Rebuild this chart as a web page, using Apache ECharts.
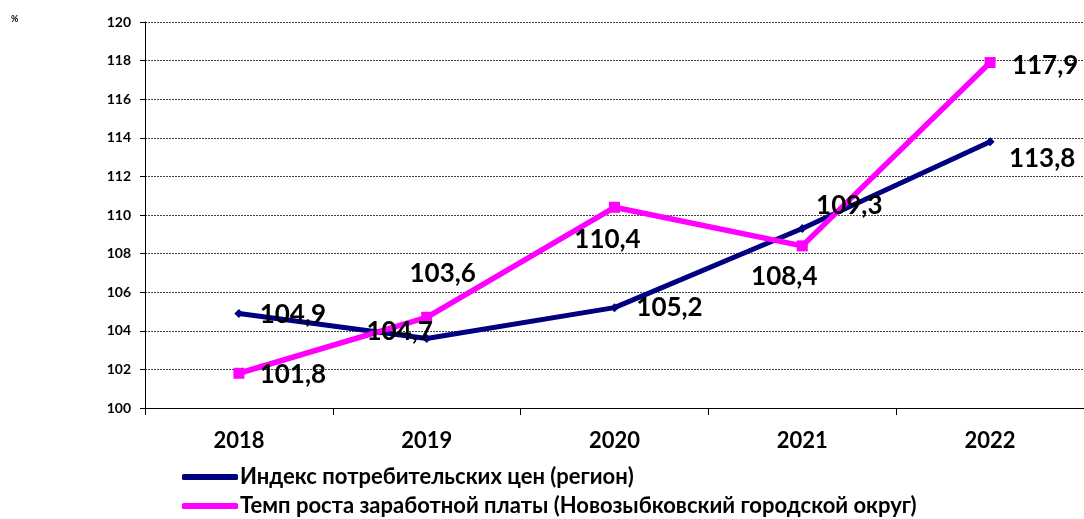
<!DOCTYPE html>
<html>
<head>
<meta charset="utf-8">
<script src="https://cdn.jsdelivr.net/npm/echarts@6/dist/echarts.min.js"></script>
<style>
  html, body { margin: 0; padding: 0; background: #fff; }
  #chart { width: 1084px; height: 519px; }
</style>
</head>
<body>
<div id="chart"></div>
<script>
const years = ['2018', '2019', '2020', '2021', '2022']
const cpiValues = [104.9, 103.6, 105.2, 109.3, 113.8]
const wageValues = [101.8, 104.7, 110.4, 108.4, 117.9]
// подписи в исходнике не всегда совпадают с точками
const cpiLabels = ['104,9', '104,7', '105,2', '109,3', '113,8']
const wageLabels = ['101,8', '103,6', '110,4', '108,4', '117,9']
const yTicks = [100, 102, 104, 106, 108, 110, 112, 114, 116, 118, 120]
const seriesNames = [
  'Индекс потребительских цен (регион)',
  'Темп роста заработной платы (Новозыбковский городской округ)'
]

// смещения подписей относительно точек
const cpiOffsets = [[54, 1], [-27, -7], [55, 0], [47, -23], [52, 17]]
const wageOffsets = [[54, 1], [16, -44], [-7, 32], [-18, 31], [55, 3]]

const font = 'Lato, "Open Sans", sans-serif'

const makeData = (values, labels, offsets) =>
  values.map((v, i) => ({
    value: v,
    label: { formatter: labels[i], offset: offsets[i] }
  }))

const labelStyle = {
  show: true,
  position: 'inside',
  color: '#000',
  fontFamily: font,
  fontWeight: 'bold',
  fontSize: 26
}

// по одной легенде на строку, чтобы не было переноса в колонку
const makeLegend = (name, top) => ({
  orient: 'vertical',
  left: 182,
  top: top,
  padding: 0,
  itemWidth: 56,
  itemHeight: 6,
  icon: 'roundRect',
  textStyle: { fontFamily: font, fontWeight: 'bold', fontSize: 22, lineHeight: 24, color: '#000', padding: [0, 0, 0, -3] },
  data: [name]
})

const chart = echarts.init(document.getElementById('chart'), null, { renderer: 'canvas' })

chart.setOption({
  animation: false,
  grid: { left: 145, right: 0, top: 22, bottom: 111 },
  graphic: [{
    type: 'text', left: 11, top: 15,
    style: { text: '%', font: 'bold 9px ' + font, fill: '#000' }
  }],
  legend: [makeLegend(seriesNames[0], 465), makeLegend(seriesNames[1], 494)],
  xAxis: {
    type: 'category',
    data: years,
    boundaryGap: true,
    axisLine: { lineStyle: { color: '#000', width: 1 } },
    axisTick: { show: true, length: 7, lineStyle: { color: '#000' } },
    axisLabel: { color: '#000', fontFamily: font, fontWeight: 'bold', fontSize: 22, margin: 22 }
  },
  yAxis: {
    type: 'value',
    min: 100,
    max: 120,
    interval: 2,
    axisLine: { show: true, lineStyle: { color: '#000', width: 1 } },
    axisTick: { show: true, length: 5, lineStyle: { color: '#000' } },
    axisLabel: {
      color: '#000', fontFamily: font, fontWeight: 'bold', fontSize: 14, margin: 14,
      formatter: v => yTicks.includes(v) ? String(v) : ''
    },
    splitLine: { lineStyle: { color: '#444', type: [2, 1], width: 1 } }
  },
  series: [
    {
      name: seriesNames[0],
      type: 'line',
      data: makeData(cpiValues, cpiLabels, cpiOffsets),
      symbol: 'diamond',
      symbolSize: 9,
      lineStyle: { color: '#000080', width: 5, cap: 'round' },
      itemStyle: { color: '#000080' },
      label: labelStyle
    },
    {
      name: seriesNames[1],
      type: 'line',
      data: makeData(wageValues, wageLabels, wageOffsets),
      symbol: 'rect',
      symbolSize: 11,
      lineStyle: { color: '#ff00ff', width: 5.5, cap: 'round' },
      itemStyle: { color: '#ff00ff' },
      label: labelStyle
    }
  ]
})
</script>
</body>
</html>
